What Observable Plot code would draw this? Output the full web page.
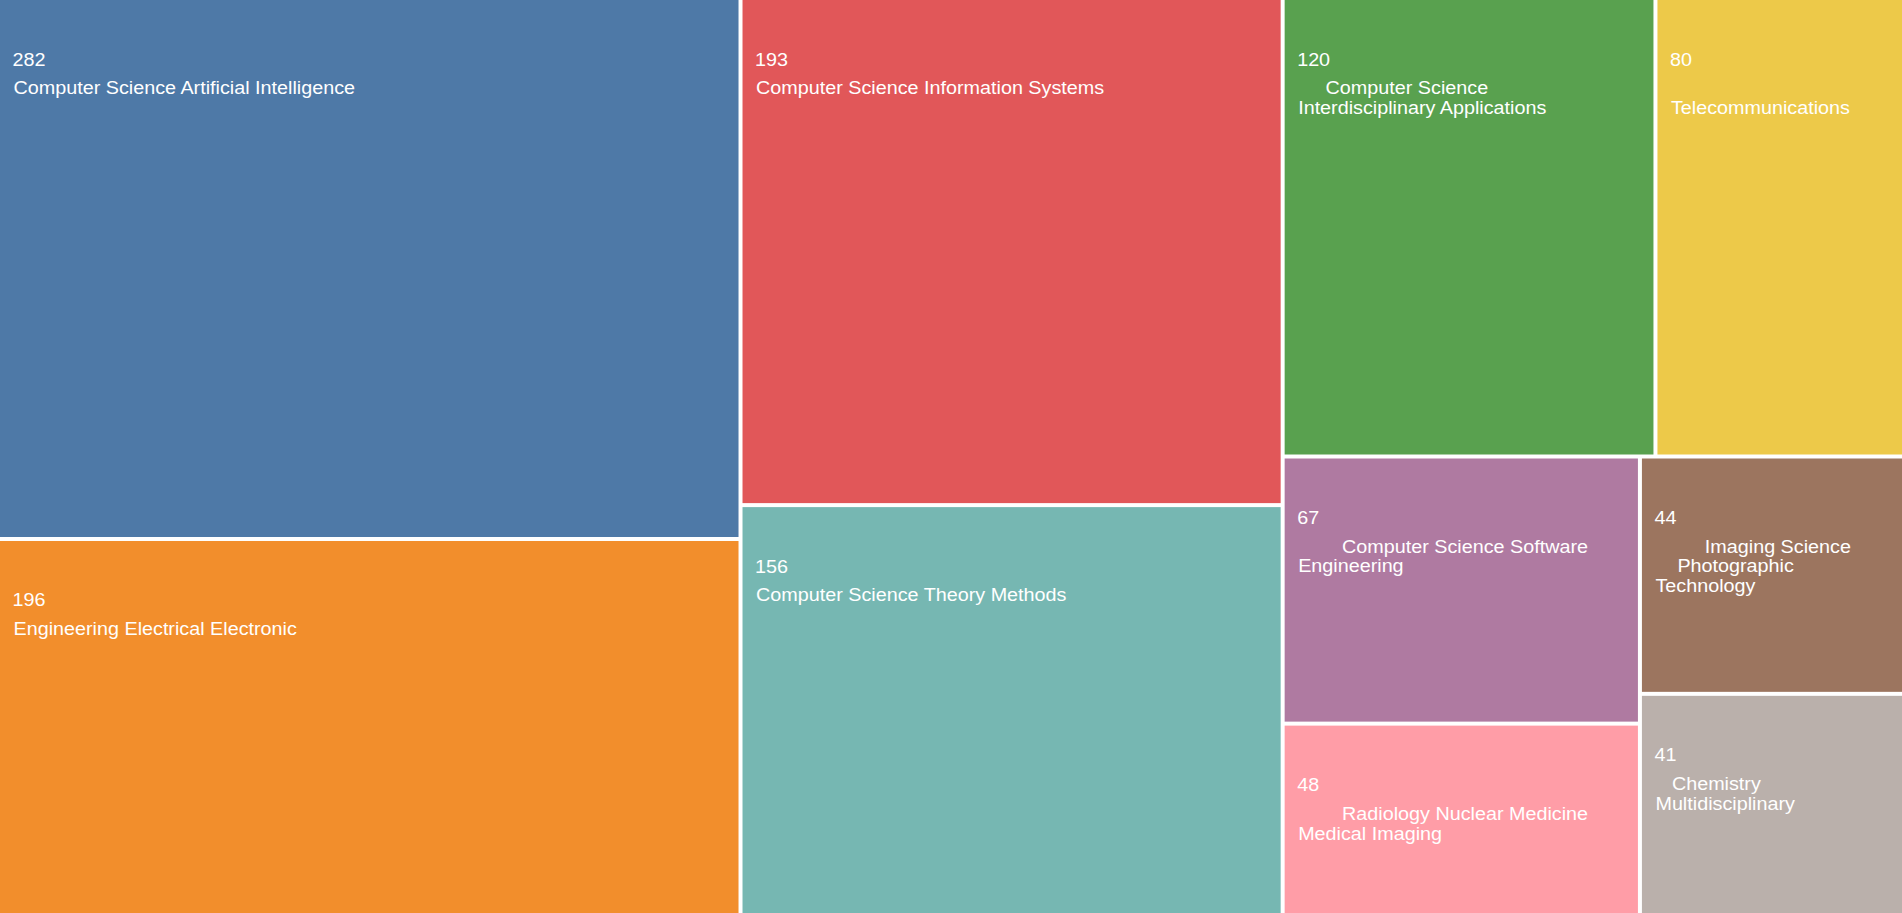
<!DOCTYPE html>
<html>
<head>
<meta charset="utf-8">
<script src="https://cdn.jsdelivr.net/npm/d3@7"></script>
<script src="https://cdn.jsdelivr.net/npm/@observablehq/plot@0.6"></script>
<style>
  html, body { margin: 0; padding: 0; background: #ffffff; }
  #chart svg { display: block; }
</style>
</head>
<body>
<div id="chart"></div>
<script>
// ---- Data ----
const categories = [
  "Computer Science Artificial Intelligence",
  "Engineering Electrical Electronic",
  "Computer Science Information Systems",
  "Computer Science Theory Methods",
  "Computer Science Interdisciplinary Applications",
  "Telecommunications",
  "Computer Science Software Engineering",
  "Radiology Nuclear Medicine Medical Imaging",
  "Imaging Science Photographic Technology",
  "Chemistry Multidisciplinary"
];
const counts = [282, 196, 193, 156, 120, 80, 67, 48, 44, 41];
// label text as wrapped in the picture (leading non-breaking spaces as shown)
const NB = "\u00a0";
const labels = [
  "Computer Science Artificial Intelligence",
  "Engineering Electrical Electronic",
  "Computer Science Information Systems",
  "Computer Science Theory Methods",
  NB.repeat(5) + "Computer Science\nInterdisciplinary Applications",
  "\nTelecommunications",
  NB.repeat(8) + "Computer Science Software\nEngineering",
  NB.repeat(8) + "Radiology Nuclear Medicine\nMedical Imaging",
  NB.repeat(9) + "Imaging Science\n" + NB.repeat(4) + "Photographic\nTechnology",
  NB.repeat(3) + "Chemistry\nMultidisciplinary"
];
const palette = ["#4e79a7", "#f28e2c", "#e15759", "#76b7b2", "#59a14f",
                 "#edc949", "#af7aa1", "#ff9da7", "#9c755f", "#bab0ab"];

// ---- Layout ----
const W = 1902, H = 913;
const root = d3.hierarchy({children: categories.map((c, i) => ({name: c, value: counts[i], label: labels[i]}))})
  .sum(d => d.value || 0)
  .sort((a, b) => b.value - a.value);
d3.treemap().size([W, H]).paddingInner(4).tile(d3.treemapSquarify)(root);
const cells = root.leaves().map(d => ({
  name: d.data.name, value: d.data.value, label: d.data.label,
  x0: d.x0, x1: d.x1, y0: d.y0, y1: d.y1
}));

const FS = 17.5;
const chart = Plot.plot({
  width: W,
  height: H,
  margin: 0,
  x: {domain: [0, W], range: [0, W], axis: null},
  y: {domain: [0, H], range: [0, H], axis: null},
  color: {domain: categories, range: palette},
  style: {fontFamily: "'Liberation Sans', Arial, sans-serif", background: "#ffffff"},
  marks: [
    Plot.rect(cells, {x1: "x0", x2: "x1", y1: "y0", y2: "y1", fill: "name"}),
    Plot.text(cells, {
      x: "x0", y: "y0", text: d => String(d.value),
      dx: 12, dy: 65, textAnchor: "start", lineAnchor: "bottom",
      fill: "white", fontSize: FS
    }),
    Plot.text(cells, {
      x: "x0", y: "y0", text: "label",
      dx: 13, dy: 92 - 0.71 * FS, textAnchor: "start", lineAnchor: "top",
      lineHeight: 1.13, fill: "white", fontSize: FS
    })
  ]
});

// slight horizontal stretch of the glyphs, as in the reference rendering
chart.querySelectorAll("text").forEach(t => {
  const tr = t.getAttribute("transform");
  if (tr) t.setAttribute("transform", tr + " scale(1.13,1)");
  else {
    const x = +(t.getAttribute("x") || 0);
    t.setAttribute("transform", `translate(${x},0) scale(1.13,1) translate(${-x},0)`);
  }
});

document.getElementById("chart").appendChild(chart);
</script>
</body>
</html>
